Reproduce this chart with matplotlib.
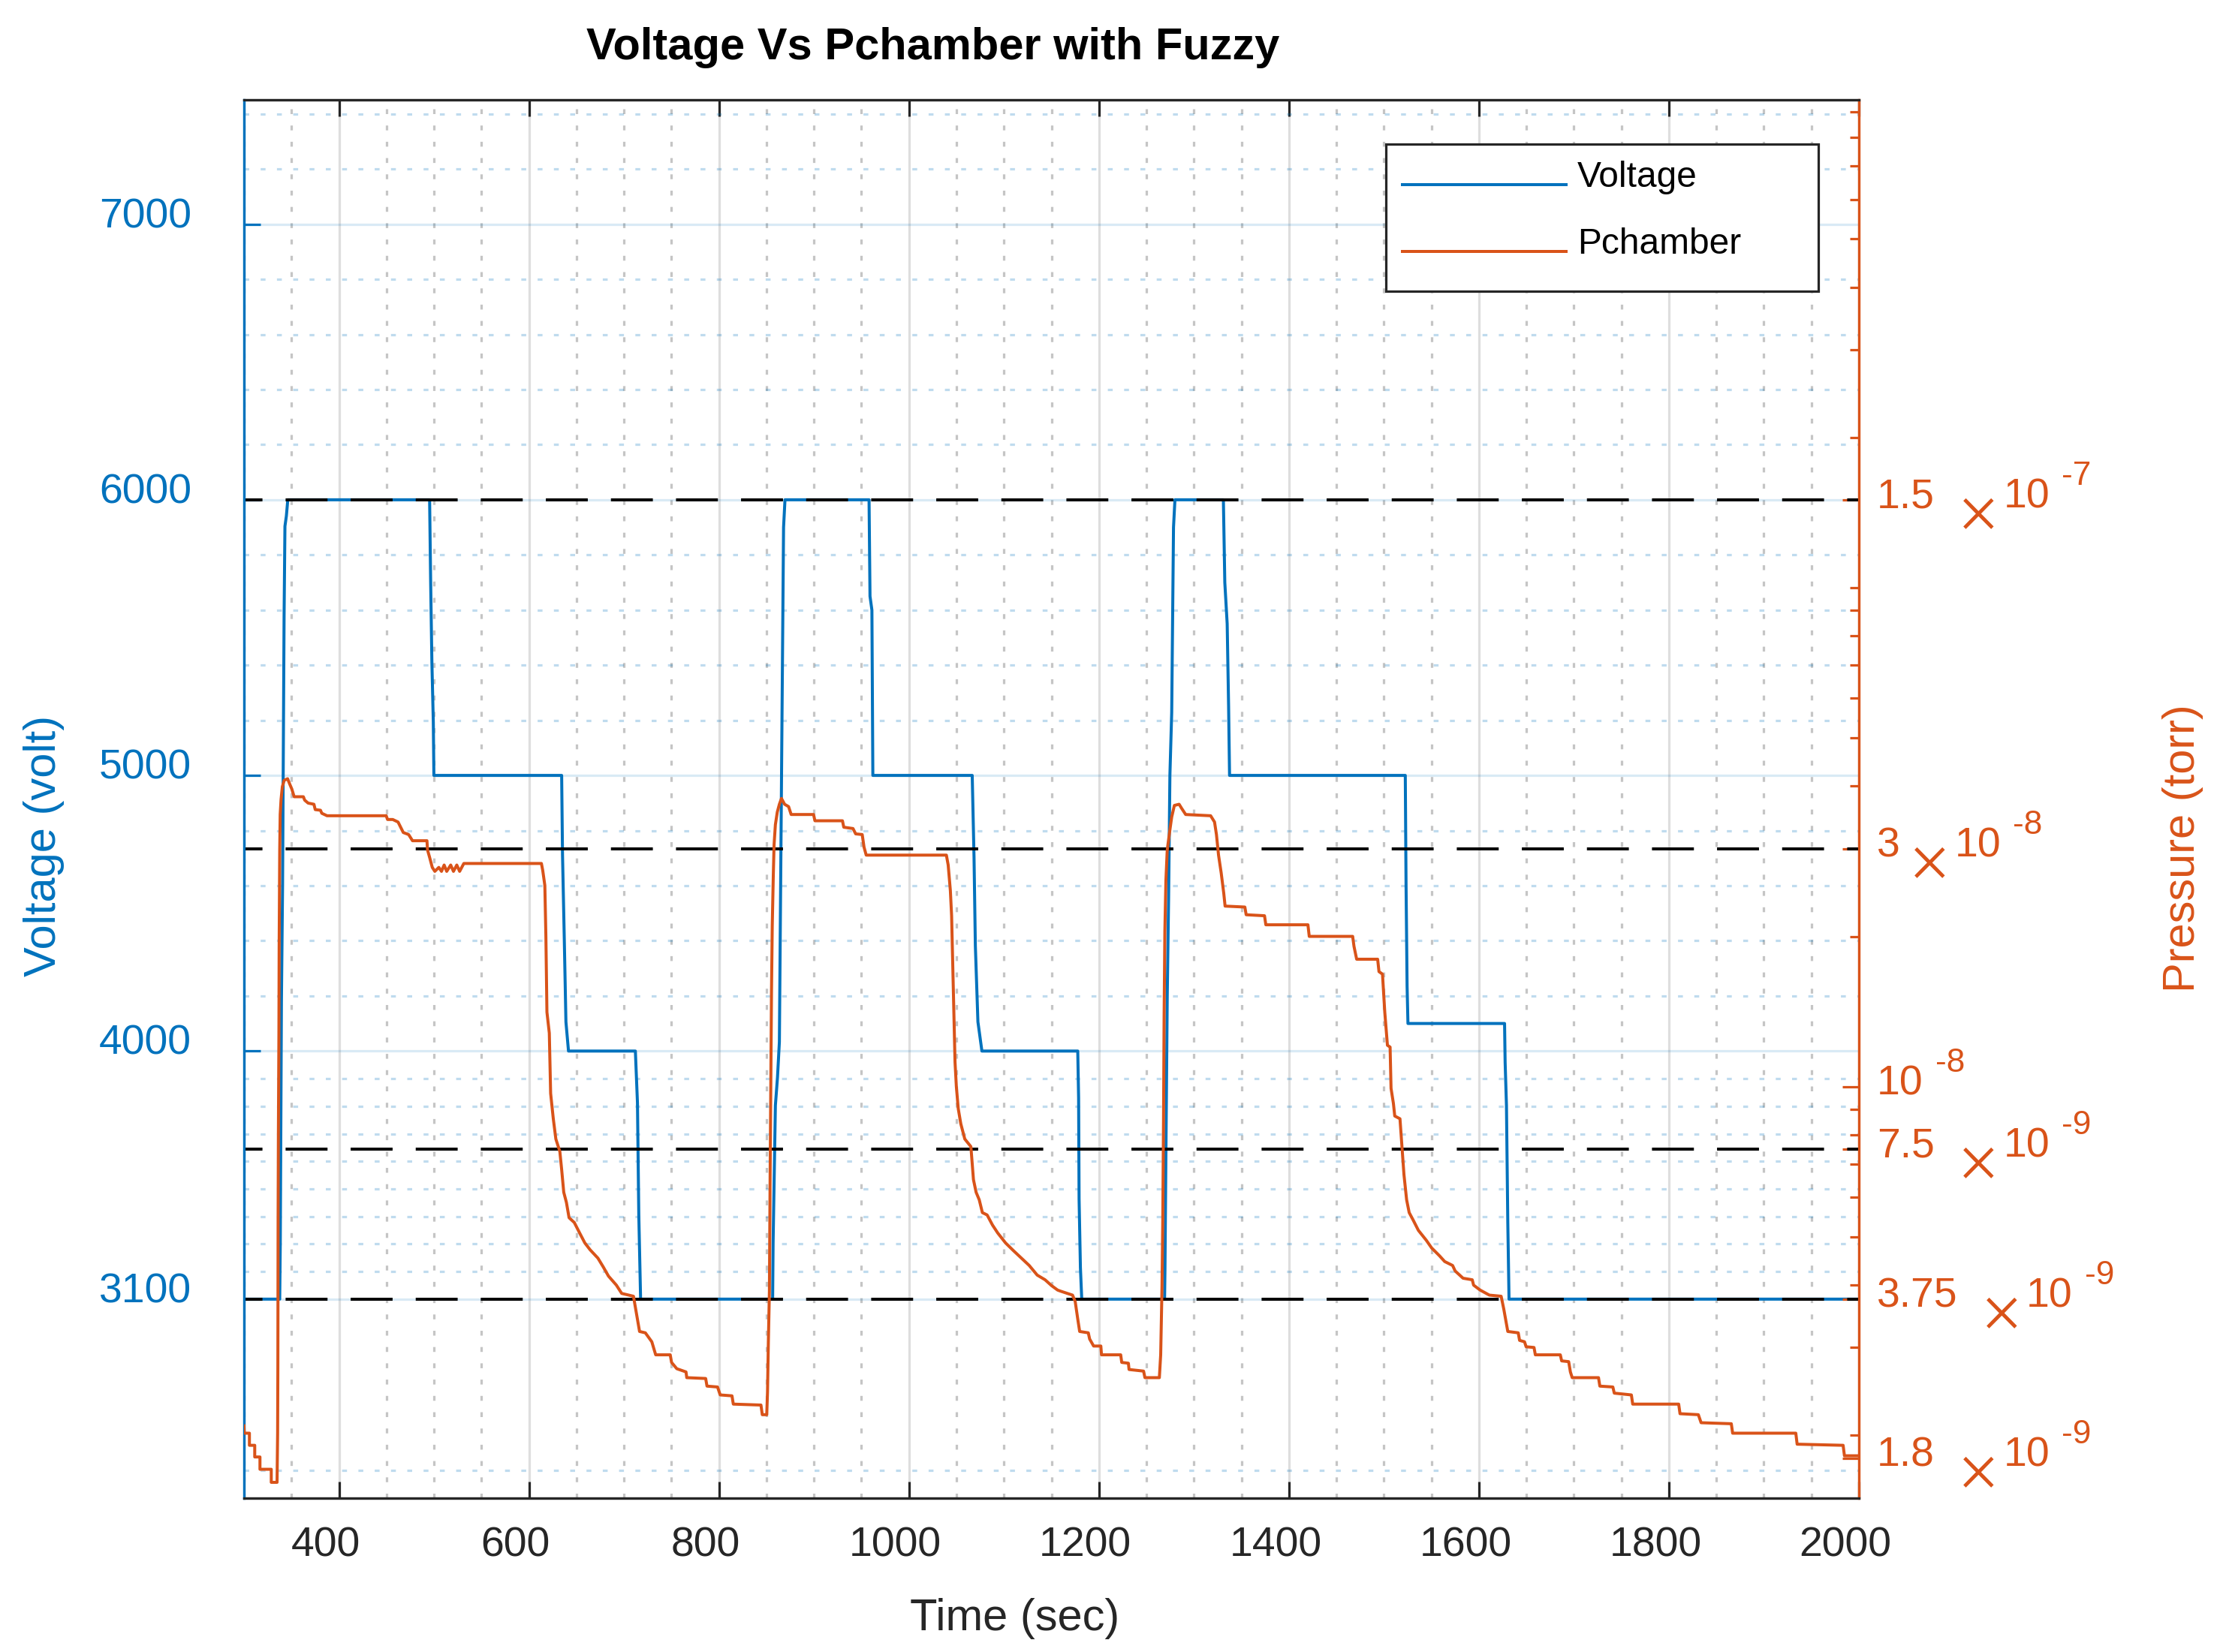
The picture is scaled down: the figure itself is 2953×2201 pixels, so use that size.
import numpy as np
import matplotlib
matplotlib.use("Agg")
import matplotlib.pyplot as plt
from matplotlib.transforms import ScaledTranslation
from matplotlib.ticker import FixedLocator, NullFormatter, LogLocator
from matplotlib.patches import Rectangle
from matplotlib.lines import Line2D

plt.rcParams['font.family'] = ['Liberation Sans', 'DejaVu Sans']
plt.rcParams['lines.scale_dashes'] = False

# ---------------- data ----------------
title = "Voltage Vs Pchamber with Fuzzy"
xlabel = "Time (sec)"
ylabel_left = "Voltage (volt)"
ylabel_right = "Pressure (torr)"
series_names = ["Voltage", "Pchamber"]

voltage_time = [300, 337.6, 338.2, 339.4, 340.6, 342.2, 343.1, 344.6, 346.1,
                495.4, 496.5, 497.8, 499.3, 499.9,
                634.4, 635.3, 637.2, 638.9, 641.6,
                712.0, 714.2, 715.6, 717.5,
                856.5, 857.0, 859.4, 861.6, 863.6, 866.4, 868.0, 869.5,
                958.0, 959.0, 961.0, 962.0,
                1066.6, 1068.5, 1069.9, 1072.6, 1076.8,
                1177.7, 1178.6, 1179.1, 1180.5, 1181.9,
                1269.1, 1269.5, 1270.5, 1271.9, 1273.3, 1274.7, 1276.6, 1278.5, 1280.0,
                1331.0, 1332.5, 1335.0, 1336.5, 1337.5,
                1522.5, 1523.3, 1524.4, 1525.3,
                1627.0, 1627.6, 1629.0, 1630.4, 1631.7,
                2000]
voltage_volt = [3100, 3100, 3306, 4180, 4600, 5578, 5904, 5941, 6000,
                6000, 5700, 5410, 5192, 5000,
                5000, 4713, 4401, 4106, 4000,
                4000, 3812, 3407, 3100,
                3100, 3306, 3803, 3904, 4033, 5228, 5900, 6000,
                6000, 5650, 5600, 5000,
                5000, 4704, 4382, 4106, 4000,
                4000, 3830, 3463, 3214, 3100,
                3100, 3205, 3628, 4198, 4548, 5000, 5228, 5900, 6000,
                6000, 5700, 5550, 5250, 5000,
                5000, 4603, 4235, 4100,
                4100, 3959, 3803, 3380, 3100,
                3100]

pressure_time = [300.0, 300.2, 305.7, 305.7, 311.3, 311.3, 316.8, 316.8, 328.7, 328.7,
                 334.8, 335.4, 335.65, 335.9, 336.2, 336.75, 337.0, 337.6, 338.1, 339.0,
                 340.35, 342.3, 345.9, 348.1, 350.3, 352.8, 362.5, 363.9, 367.5, 373.6,
                 375.0, 380.5, 381.9, 387.4, 449.7, 451.1, 456.6, 462.2, 467.7, 473.3,
                 477.4, 492.6, 493.2, 495.4, 498.2, 500.9, 505.1, 507.9, 510.7, 513.4,
                 517.6, 520.5, 524.0, 527.0, 531.4, 613.1, 614.5, 616.7, 617.8, 618.9,
                 621.4, 622.8, 625.6, 628.3, 632.5, 634.4, 636.6, 639.4, 642.2, 647.7,
                 653.3, 658.8, 664.3, 672.6, 678.2, 683.7, 692.0, 697.6, 710.0, 712.8,
                 716.4, 722.5, 729.3, 733.4, 748.7, 750.1, 755.6, 765.3, 766.1, 786.0,
                 787.4, 798.5, 801.3, 813.7, 815.1, 844.2, 845.6, 850.3, 851.1, 852.0,
                 853.1, 853.9, 854.7, 855.3, 856.1, 857.2, 858.0, 859.4, 861.4, 863.6,
                 865.8, 869.1, 873.3, 876.0, 899.6, 901.0, 930.0, 931.4, 941.1, 943.9,
                 950.8, 952.7, 955.0, 1039.4, 1041.3, 1043.6, 1044.9, 1046.3, 1047.7, 1048.5,
                 1049.9, 1051.9, 1054.6, 1058.8, 1065.2, 1067.9, 1070.7, 1074.0, 1077.3, 1082.3,
                 1087.9, 1093.4, 1101.7, 1110.0, 1118.4, 1126.6, 1135.0, 1143.3, 1150.2, 1156.5,
                 1159.7, 1172.2, 1175.0, 1177.7, 1179.7, 1188.8, 1190.2, 1194.4, 1202.0, 1202.7,
                 1222.9, 1224.0, 1231.0, 1231.7, 1247.0, 1248.4, 1263.6, 1265.0, 1266.4, 1267.2,
                 1268.0, 1268.6, 1269.4, 1270.5, 1271.9, 1274.7, 1276.6, 1279.4, 1284.4, 1287.1,
                 1291.3, 1317.6, 1321.7, 1323.7, 1325.9, 1328.7, 1331.4, 1332.8, 1353.6, 1355.0,
                 1374.3, 1375.7, 1420.0, 1421.4, 1467.1, 1468.5, 1471.3, 1493.4, 1494.8, 1498.5,
                 1500.9, 1503.7, 1506.5, 1507.5, 1510.0, 1511.4, 1516.9, 1519.2, 1521.1, 1523.9,
                 1526.6, 1530.8, 1536.3, 1544.6, 1550.2, 1558.5, 1564.0, 1572.3, 1575.0, 1583.3,
                 1593.0, 1594.4, 1601.3, 1611.0, 1623.4, 1626.2, 1630.4, 1641.4, 1642.8, 1648.0,
                 1649.7, 1658.0, 1659.4, 1685.7, 1687.1, 1694.5, 1696.3, 1698.2, 1725.9, 1727.3,
                 1741.0, 1742.5, 1760.5, 1761.9, 1810.3, 1811.7, 1831.0, 1833.9, 1865.7, 1867.1,
                 1933.6, 1935.0, 1983.4, 1984.8, 2000.0]
# pressure in units of 1e-9 torr
pressure_e9 = [2.09, 2.02, 2.02, 1.91, 1.91, 1.81, 1.81, 1.71, 1.71, 1.61,
               1.61, 2.02, 2.74, 5.40, 8.04, 12.8, 19.1, 29.8, 35.1, 37.6,
               39.9, 41.1, 41.4, 40.4, 39.5, 38.1, 38.1, 37.5, 37.0, 36.8,
               35.9, 35.8, 35.3, 34.9, 34.9, 34.3, 34.3, 33.9, 32.3, 32.0,
               31.1, 31.1, 29.8, 28.8, 27.5, 27.0, 27.5, 27.0, 27.8, 27.0,
               27.8, 27.0, 27.8, 27.0, 28.0, 28.0, 27.1, 25.3, 20.0, 14.1,
               12.8, 9.69, 8.62, 7.85, 7.41, 6.82, 6.14, 5.86, 5.46, 5.34,
               5.09, 4.86, 4.71, 4.53, 4.35, 4.17, 4.00, 3.85, 3.80, 3.54,
               3.23, 3.21, 3.08, 2.90, 2.90, 2.80, 2.72, 2.68, 2.61, 2.60,
               2.51, 2.50, 2.41, 2.40, 2.31, 2.30, 2.20, 2.20, 2.44, 3.08,
               3.89, 6.82, 10.9, 15.5, 21.0, 26.5, 30.5, 33.5, 35.5, 36.8,
               37.8, 36.8, 36.4, 35.1, 35.1, 34.1, 34.1, 33.1, 32.9, 32.1,
               32.0, 30.2, 29.1, 29.1, 27.8, 24.7, 22.0, 17.0, 13.1, 11.2,
               10.0, 9.03, 8.42, 7.85, 7.58, 6.51, 6.14, 5.93, 5.59, 5.53,
               5.28, 5.09, 4.86, 4.69, 4.53, 4.38, 4.19, 4.10, 3.99, 3.91,
               3.89, 3.82, 3.71, 3.42, 3.23, 3.21, 3.12, 3.02, 3.02, 2.90,
               2.90, 2.80, 2.79, 2.71, 2.69, 2.61, 2.61, 2.90, 3.98, 5.40,
               8.62, 13.8, 20.5, 25.9, 29.8, 32.7, 34.7, 36.6, 36.8, 36.1,
               35.1, 34.9, 33.9, 32.0, 29.1, 26.8, 24.4, 23.0, 22.9, 22.1,
               22.0, 21.1, 21.1, 20.0, 20.0, 19.1, 18.0, 18.0, 17.0, 16.8,
               14.1, 12.1, 12.0, 9.92, 9.25, 8.73, 8.62, 7.49, 6.66, 5.93,
               5.59, 5.40, 5.15, 4.92, 4.75, 4.58, 4.46, 4.38, 4.27, 4.13,
               4.10, 4.00, 3.91, 3.82, 3.80, 3.58, 3.23, 3.21, 3.10, 3.08,
               3.01, 3.00, 2.90, 2.90, 2.82, 2.81, 2.68, 2.61, 2.61, 2.51,
               2.50, 2.43, 2.41, 2.31, 2.31, 2.21, 2.20, 2.12, 2.11, 2.02,
               2.02, 1.92, 1.91, 1.82, 1.82]

x_ticks = [400, 600, 800, 1000, 1200, 1400, 1600, 1800, 2000]
left_ticks = [3100, 4000, 5000, 6000, 7000]
left_minor = [2480, 3200, 3300, 3400, 3500, 3600, 3700, 3800, 3900,
              4200, 4400, 4600, 4800, 5200, 5400, 5600, 5800,
              6200, 6400, 6600, 6800, 7200, 7400]
right_tick_values = [1.5e-7, 3e-8, 1e-8, 7.5e-9, 3.75e-9, 1.8e-9]
right_tick_mantissa = ["1.5 ", "3", "", "7.5 ", "3.75 ", "1.8 "]
right_tick_exponent = ["-7", "-8", "-8", "-9", "-9", "-9"]
ref_pressures = [1.5e-7, 3e-8, 7.5e-9, 3.75e-9]

# ---------------- style ----------------
W, H, DPI = 2954, 2201, 300
PT = 72.0 / DPI
BLUE = '#0072BD'
ORANGE = '#D95319'
DARK = '#262626'
LW = 3.2 * PT          # axes / grid / ticks
LWD = 4.0 * PT         # data and reference lines
FS = 13.3
FS_LAB = 14.3
DOT = (0, (6.5 * PT, 15.2 * PT))

fig = plt.figure(figsize=(W / DPI, H / DPI), dpi=DPI)
AX_L, AX_R, AX_T, AX_B = 325, 2476, 133, 1996
ax = fig.add_axes([AX_L / W, 1 - AX_B / H, (AX_R - AX_L) / W, (AX_B - AX_T) / H])
ax2 = ax.twinx()

ax.set_xlim(300, 2000)
ax.set_ylim(2378, 7451)
# right log axis aligned so that 1.5e-7 <-> 6000 and 3.75e-9 <-> 3100
ylo, yhi = ax.get_ylim()
dec_per_v = np.log10(1.5e-7 / 3.75e-9) / (6000 - 3100)
p_lo = 10 ** (np.log10(3.75e-9) - (3100 - ylo) * dec_per_v)
p_hi = 10 ** (np.log10(1.5e-7) + (yhi - 6000) * dec_per_v)
ax2.set_yscale('log')
ax2.set_ylim(p_lo, p_hi)

ax.xaxis.set_major_locator(FixedLocator(x_ticks))
ax.xaxis.set_minor_locator(FixedLocator(np.arange(300, 2001, 50)))
ax.yaxis.set_major_locator(FixedLocator(left_ticks))
ax.yaxis.set_minor_locator(FixedLocator(left_minor))

ax.grid(True, which='major', axis='x', color=(0.15, 0.15, 0.15), alpha=0.15, linewidth=LW)
ax.grid(True, which='minor', axis='x', color=(0.1, 0.1, 0.1), alpha=0.25, linewidth=LW, linestyle=DOT)
ax.grid(True, which='major', axis='y', color=BLUE, alpha=0.15, linewidth=LW)
ax.grid(True, which='minor', axis='y', color=BLUE, alpha=0.25, linewidth=LW, linestyle=DOT)
ax.set_axisbelow(True)

ax.tick_params(axis='x', which='major', direction='in', length=22 * PT, width=LW, color=DARK,
               top=True, bottom=True, labelsize=FS, labelcolor=DARK, pad=9.0)
ax.tick_params(axis='x', which='minor', length=0, top=False, bottom=False)
ax.tick_params(axis='y', which='major', direction='in', length=22 * PT, width=LW, color=BLUE,
               left=True, right=False, labelsize=FS, labelcolor=BLUE, pad=16.8)
ax.tick_params(axis='y', which='minor', length=0, left=False, right=False)

ax2.yaxis.set_major_locator(FixedLocator(right_tick_values))
ax2.yaxis.set_major_formatter(NullFormatter())
ax2.yaxis.set_minor_locator(LogLocator(base=10, subs=np.arange(1, 10), numticks=60))
ax2.yaxis.set_minor_formatter(NullFormatter())
ax2.tick_params(axis='y', which='major', direction='in', length=22 * PT, width=LW, color=ORANGE)
ax2.tick_params(axis='y', which='minor', direction='in', length=12 * PT, width=LW, color=ORANGE)

for a in (ax, ax2):
    for s in a.spines.values():
        s.set_linewidth(LW)
    a.spines['top'].set_color(DARK)
    a.spines['bottom'].set_color(DARK)
    a.spines['left'].set_color(BLUE)
    a.spines['right'].set_color(ORANGE)

# ---------------- data lines ----------------
ax.plot(voltage_time, voltage_volt, color=BLUE, linewidth=LWD, zorder=3)
for p in ref_pressures:
    ax2.axhline(p, color='black', linewidth=LWD, linestyle=(7.5, (13.4, 7.4)), zorder=2)
ax2.plot(pressure_time, np.array(pressure_e9) * 1e-9, color=ORANGE, linewidth=LWD, zorder=3)

# tick label offsets (as in the reference)
for lab in ax.get_xticklabels():
    lab.set_transform(lab.get_transform() + ScaledTranslation(-18 / DPI, 0, fig.dpi_scale_trans))
for lab in ax.get_yticklabels():
    lab.set_transform(lab.get_transform() + ScaledTranslation(0, 15.5 / DPI, fig.dpi_scale_trans))

# right tick labels "m x10^e"
ytr = ax2.get_yaxis_transform()
for val, mant, ex in zip(right_tick_values, right_tick_mantissa, right_tick_exponent):
    base = dict(textcoords='offset points', color=ORANGE, annotation_clip=False)
    if mant.strip():
        gap = 15 + (19 if mant.endswith(' ') else 0)
        t_num = ax2.annotate(mant.strip(), xy=(1, val), xycoords=ytr, xytext=(24 * PT, -11 * PT),
                             ha='left', va='baseline', fontsize=FS, **base)
        t_x = ax2.annotate(r'$\times$', xy=(1, val), xycoords=(t_num, ytr), xytext=(gap * PT, -19 * PT),
                           ha='left', va='center', fontsize=17.5, math_fontfamily='stix', **base)
        t_10 = ax2.annotate('10', xy=(1, val), xycoords=(t_x, ytr), xytext=(12 * PT, -11 * PT),
                            ha='left', va='baseline', fontsize=FS, **base)
    else:
        t_10 = ax2.annotate('10', xy=(1, val), xycoords=ytr, xytext=(24 * PT, -11 * PT),
                            ha='left', va='baseline', fontsize=FS, **base)
    ax2.annotate(ex, xy=(1, val), xycoords=(t_10, ytr), xytext=(16 * PT, 19.5 * PT),
                 ha='left', va='baseline', fontsize=FS * 0.8, **base)

# ---------------- legend (MATLAB style box) ----------------
def afrac(xpx, ypx):
    return ((xpx - AX_L) / (AX_R - AX_L), (AX_B - ypx) / (AX_B - AX_T))

x0, y0 = afrac(1846, 388)
x1, y1 = afrac(2422, 192)
ax2.add_patch(Rectangle((x0, y0), x1 - x0, y1 - y0, transform=ax2.transAxes, facecolor='white',
                        edgecolor=DARK, linewidth=LW, zorder=10, clip_on=False))
for name, col, yl, yb in [(series_names[0], BLUE, 246, 249), (series_names[1], ORANGE, 335, 338)]:
    lx0, ly = afrac(1868, yl)
    lx1, _ = afrac(2086, yl)
    ax2.add_line(Line2D([lx0, lx1], [ly, ly], transform=ax2.transAxes, color=col, linewidth=LWD,
                        zorder=11, clip_on=False))
    tx, ty = afrac(2101, yb)
    ax2.text(tx, ty, name, transform=ax2.transAxes, ha='left', va='baseline', fontsize=11.5,
             color='black', zorder=12)

# ---------------- titles / labels ----------------
fig.text(1243 / W, 1 - 79 / H, title, ha='center', va='baseline', fontsize=FS_LAB,
         fontweight='bold', color='black')
fig.text(1352 / W, 1 - 2172 / H, xlabel, ha='center', va='baseline', fontsize=FS_LAB, color=DARK)
fig.text(58.5 / W, 1 - 1127 / H, ylabel_left, ha='center', va='center', rotation=90,
         fontsize=FS_LAB, color=BLUE)
fig.text(2908 / W, 1 - 1130 / H, ylabel_right, ha='center', va='center', rotation=90,
         fontsize=FS_LAB, color=ORANGE)

fig.savefig('out.png', dpi=DPI, facecolor='white')
